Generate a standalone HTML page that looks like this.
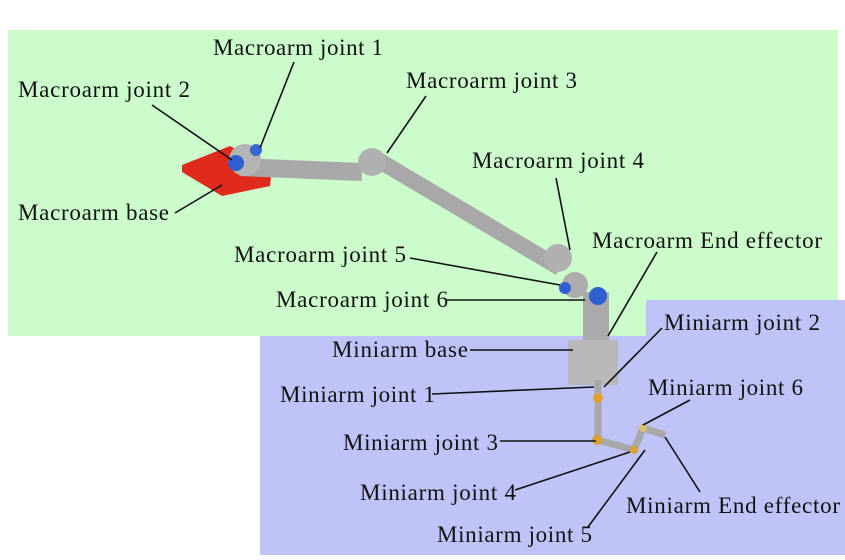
<!DOCTYPE html>
<html><head><style>body{margin:0;background:#fff}svg{display:block}text{font-family:"Liberation Serif",serif;font-size:23px;fill:#111}</style></head>
<body>
<svg width="845" height="560" viewBox="0 0 845 560" xmlns="http://www.w3.org/2000/svg">
<rect x="8" y="30" width="830" height="306" fill="#ccfccc"/>
<polygon points="260,336 646,336 646,300 845,300 845,555 260,555" fill="#bfc3f8"/>
<!-- robot -->
<polygon points="182,165 230,146 272,168 270,186 222,196 182,172" fill="#e02a1c"/>
<line x1="240" y1="167" x2="362" y2="172" stroke="#a8a8a8" stroke-width="18"/>
<line x1="378" y1="160" x2="560" y2="268" stroke="#a8a8a8" stroke-width="16"/>
<circle cx="245" cy="160" r="16" fill="#b4b4b4"/>
<circle cx="236" cy="163" r="8" fill="#2f5fd0"/>
<circle cx="256" cy="150" r="6" fill="#3a66d0"/>
<circle cx="372" cy="162" r="14" fill="#b0b0b0"/>
<circle cx="558" cy="258" r="14" fill="#b0b0b0"/>
<circle cx="575" cy="285" r="13" fill="#acacac"/>
<circle cx="565" cy="288" r="6" fill="#2f5fd0"/>
<line x1="596" y1="292" x2="596" y2="350" stroke="#aaaaaa" stroke-width="26"/>
<circle cx="598" cy="296" r="9" fill="#2f5fd0"/>
<rect x="568" y="340" width="50" height="45" fill="#b8b8b8"/>
<line x1="598" y1="380" x2="598" y2="440" stroke="#a8a8a8" stroke-width="7"/>
<polyline points="598,440 634,450 643,428 665,435" fill="none" stroke="#a8a8a8" stroke-width="7"/>
<circle cx="598" cy="398" r="5" fill="#e0a030"/>
<circle cx="597" cy="440" r="5" fill="#e0a030"/>
<circle cx="634" cy="450" r="4" fill="#e0a030"/>
<circle cx="643" cy="428" r="4" fill="#d8c070"/>
<!-- leader lines -->
<g stroke="#111" stroke-width="1.6">
<line x1="294" y1="62" x2="260" y2="148"/>
<line x1="152" y1="105" x2="232" y2="160"/>
<line x1="426" y1="96" x2="387" y2="153"/>
<line x1="175" y1="213" x2="222" y2="185"/>
<line x1="556" y1="178" x2="570" y2="250"/>
<line x1="410" y1="258" x2="560" y2="285"/>
<line x1="446" y1="300" x2="585" y2="300"/>
<line x1="657" y1="252" x2="608" y2="336"/>
<line x1="662" y1="328" x2="604" y2="387"/>
<line x1="470" y1="350" x2="573" y2="350"/>
<line x1="432" y1="394" x2="594" y2="387"/>
<line x1="690" y1="400" x2="643" y2="425"/>
<line x1="500" y1="441" x2="596" y2="441"/>
<line x1="515" y1="490" x2="630" y2="452"/>
<line x1="700" y1="492" x2="665" y2="437"/>
<line x1="588" y1="527" x2="645" y2="450"/>
</g>
<text x="213" y="55" textLength="170">Macroarm joint 1</text>
<text x="18" y="97" textLength="172">Macroarm joint 2</text>
<text x="406" y="88" textLength="171">Macroarm joint 3</text>
<text x="18" y="220" textLength="151">Macroarm base</text>
<text x="472" y="168" textLength="172">Macroarm joint 4</text>
<text x="234" y="262" textLength="172">Macroarm joint 5</text>
<text x="276" y="307" textLength="172">Macroarm joint 6</text>
<text x="592" y="248" textLength="230">Macroarm End effector</text>
<text x="664" y="330" textLength="156">Miniarm joint 2</text>
<text x="332" y="357" textLength="136">Miniarm base</text>
<text x="280" y="402" textLength="155">Miniarm joint 1</text>
<text x="648" y="395" textLength="155">Miniarm joint 6</text>
<text x="343" y="450" textLength="155">Miniarm joint 3</text>
<text x="360" y="500" textLength="156">Miniarm joint 4</text>
<text x="626" y="513" textLength="214">Miniarm End effector</text>
<text x="437" y="542" textLength="155">Miniarm joint 5</text>
</svg>
</body></html>
